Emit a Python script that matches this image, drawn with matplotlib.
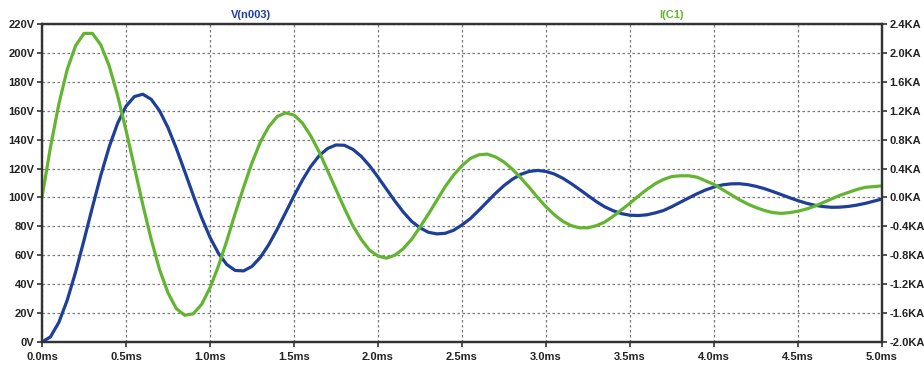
import numpy as np
import matplotlib.pyplot as plt

plt.rcParams['font.family'] = ['Liberation Sans', 'DejaVu Sans']

# time axis, one sample every 0.05 ms (0 .. 5 ms)
time_ms = np.round(np.arange(101) * 0.05, 2)

# V(n003) in volts
v_n003 = [
    0.0, 3.5, 13.5, 28.9, 48.4, 70.4, 93.2, 115.3, 135.0, 151.3,
    163.1, 169.8, 171.4, 167.9, 159.9, 148.3, 133.8, 117.9, 101.6, 86.1,
    72.4, 61.4, 53.6, 49.5, 49.2, 52.3, 58.6, 67.4, 78.0, 89.5,
    101.1, 112.0, 121.5, 128.9, 133.9, 136.3, 136.1, 133.3, 128.5, 121.9,
    114.1, 105.8, 97.6, 90.0, 83.5, 79.0, 75.9, 74.8, 75.2, 77.3,
    81.0, 85.4, 91.1, 97.0, 102.9, 108.2, 112.6, 116.0, 118.0, 118.7,
    118.0, 116.2, 113.3, 109.6, 105.5, 101.3, 97.1, 93.5, 90.8, 88.8,
    87.7, 87.5, 88.0, 89.3, 91.0, 93.7, 96.7, 99.7, 102.6, 105.2,
    107.2, 108.7, 109.4, 109.5, 108.9, 107.7, 106.1, 104.1, 102.0, 99.8,
    97.8, 96.0, 94.6, 93.7, 93.2, 93.3, 93.8, 94.7, 95.9, 97.4,
    98.9,
]

# I(C1) in kA
i_c1 = [
    0.00, 0.69, 1.29, 1.77, 2.10, 2.27, 2.27, 2.11, 1.82, 1.41,
    0.93, 0.42, -0.10, -0.58, -1.00, -1.32, -1.54, -1.63, -1.61, -1.48,
    -1.25, -0.95, -0.60, -0.22, 0.14, 0.48, 0.77, 0.98, 1.12, 1.17,
    1.14, 1.03, 0.85, 0.63, 0.37, 0.11, -0.15, -0.39, -0.58, -0.73,
    -0.81, -0.84, -0.80, -0.71, -0.58, -0.41, -0.23, -0.04, 0.15, 0.31,
    0.44, 0.54, 0.59, 0.60, 0.56, 0.49, 0.39, 0.27, 0.14, 0.00,
    -0.13, -0.24, -0.33, -0.39, -0.42, -0.42, -0.39, -0.34, -0.26, -0.17,
    -0.08, 0.02, 0.11, 0.19, 0.25, 0.29, 0.30, 0.30, 0.28, 0.23,
    0.18, 0.11, 0.04, -0.03, -0.09, -0.14, -0.18, -0.21, -0.22, -0.21,
    -0.19, -0.16, -0.12, -0.07, -0.02, 0.03, 0.07, 0.11, 0.14, 0.15,
    0.16,
]

x_ticks = [0.0, 0.5, 1.0, 1.5, 2.0, 2.5, 3.0, 3.5, 4.0, 4.5, 5.0]
v_ticks = [0, 20, 40, 60, 80, 100, 120, 140, 160, 180, 200, 220]
i_ticks = [-2.0, -1.6, -1.2, -0.8, -0.4, 0.0, 0.4, 0.8, 1.2, 1.6, 2.0, 2.4]

blue = '#1d3f9a'
green = '#63b531'
axis_col = '#333333'

fig = plt.figure(figsize=(9.24, 3.65), dpi=100)
ax = fig.add_axes([42 / 924, 1 - 342 / 365, 840 / 924, 318 / 365])
ax2 = ax.twinx()

ax.plot(time_ms, v_n003, color=blue, linewidth=2.3,
        solid_capstyle='round', solid_joinstyle='round')
ax2.plot(time_ms, i_c1, color=green, linewidth=2.3,
         solid_capstyle='round', solid_joinstyle='round')

ax.set_xlim(0, 5)
ax.set_ylim(0, 220)
ax2.set_ylim(-2.0, 2.4)

ax.set_xticks(x_ticks)
ax.set_xticklabels([f"{x:.1f}ms" for x in x_ticks])
ax.set_yticks(v_ticks)
ax.set_yticklabels([f"{v}V" for v in v_ticks])
ax2.set_yticks(i_ticks)
ax2.set_yticklabels([f"{v:.1f}KA" for v in i_ticks])

ax.grid(True, color='#7a7a7a', linestyle=(0, (2, 2)), linewidth=0.9)

for a in (ax, ax2):
    for s in a.spines.values():
        s.set_color(axis_col)
        s.set_linewidth(1.6)
ax.tick_params(axis='both', direction='out', length=3.5, width=1.2,
               color=axis_col, labelsize=8, pad=2)
ax.tick_params(axis='x', pad=4)
ax2.tick_params(axis='y', direction='out', length=3.5, width=1.2,
                color=axis_col, labelsize=8, pad=2)
for lab in ax.get_xticklabels() + ax.get_yticklabels() + ax2.get_yticklabels():
    lab.set_fontweight('bold')
    lab.set_color('#222222')

fig.text(251 / 924, 1 - 15 / 365, 'V(n003)', color=blue, fontsize=8,
         fontweight='bold', ha='center', va='center')
fig.text(671 / 924, 1 - 15 / 365, 'I(C1)', color=green, fontsize=8,
         fontweight='bold', ha='center', va='center')

fig.savefig('out.png', dpi=100)
